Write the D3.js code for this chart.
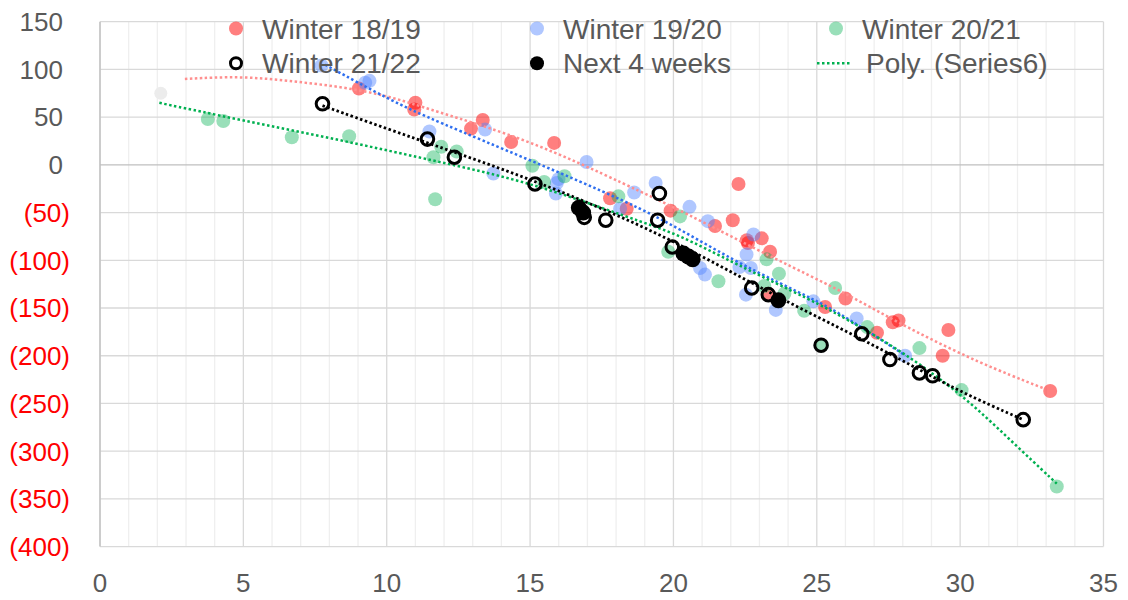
<!DOCTYPE html>
<html>
<head>
<meta charset="utf-8">
<script src="https://cdn.jsdelivr.net/npm/d3@7"></script>
<style>
    body { margin: 0; background: #fff; }
    svg text { font-family: "Liberation Sans", Arial, sans-serif; }
</style>
</head>
<body>
<div id="chart"></div>
<script>

// ticks
var xTicks = [0, 5, 10, 15, 20, 25, 30, 35];
var yTicks = [150, 100, 50, 0, -50, -100, -150, -200, -250, -300, -350, -400];

// series: [x, y]
var winter1819 = [[9.03, 80], [10.96, 58], [11.0, 65], [12.94, 38], [13.35, 47], [14.34, 24], [15.84, 23],
    [17.79, -35], [18.37, -46], [19.9, -48], [21.45, -64], [22.07, -58], [22.27, -20], [22.56, -79],
    [22.6, -82], [23.08, -77], [23.37, -91], [23.31, -135], [25.29, -149], [26.0, -140], [27.1, -176],
    [27.65, -165], [27.85, -163], [29.39, -200], [29.59, -173], [33.14, -237]];

var winter1920 = [[7.73, 104], [9.25, 86], [9.4, 88], [11.49, 35], [13.43, 37], [13.72, -9], [15.9, -30],
    [15.93, -19], [15.99, -15], [16.97, 3], [18.14, -46], [18.63, -29], [19.38, -19], [20.56, -44],
    [20.93, -108], [21.1, -115], [21.2, -59], [22.3, -107], [22.53, -136], [22.55, -94], [22.7, -108],
    [22.79, -73], [23.57, -152], [24.88, -143], [26.39, -161], [28.08, -200]];

var winter2021 = [[3.76, 48], [4.3, 46], [6.69, 29], [8.69, 30], [11.63, 8], [11.69, -36], [11.9, 19],
    [12.44, 14], [15.08, -1], [15.49, -18], [16.2, -12], [18.08, -33], [19.82, -91], [20.23, -54],
    [21.57, -122], [23.17, -127], [23.25, -99], [23.68, -114], [23.87, -135], [24.56, -153], [25.17, -189],
    [25.64, -129], [26.76, -170], [28.58, -192], [30.05, -236], [33.37, -337]];

var winter2122 = [[7.76, 64], [11.42, 27], [12.36, 8], [15.17, -20], [16.89, -55], [17.64, -58], [19.51, -30],
    [19.45, -58], [19.96, -86], [22.73, -129], [23.31, -136], [25.15, -189], [26.57, -177], [27.55, -204],
    [28.58, -218], [29.04, -221], [32.2, -267]];

var next4Weeks = [[16.7, -45], [16.85, -50], [20.35, -93], [20.52, -96], [20.67, -99], [23.66, -142]];

var series6Extra = [[2.12, 75]];

// trendlines
var trend1819 = [[2.96, 90], [4.9, 93], [6.6, 88], [8.4, 82], [10.1, 72], [11.5, 58], [15, 26], [18.5, -23],
    [20.2, -47], [23.7, -101], [25.8, -131], [28.1, -170], [30.7, -208], [32.9, -234]];
var trend1920 = [[7.85, 105], [10.1, 68], [11.7, 46], [15, 5], [18.5, -40], [20.2, -67], [22.1, -100],
    [23.7, -124], [24.9, -141], [26, -159], [28.1, -200]];
var trendSeries6 = [[2.07, 65], [4.9, 47], [8.4, 26], [11.7, 4], [15, -18], [18.5, -56], [20.2, -73],
    [22.1, -103], [24.9, -143], [26, -161], [27.9, -194], [30.05, -240], [31.7, -287], [33.37, -334]];
var trend2122 = [[7.76, 62], [10, 38], [12, 17], [14, -4], [16, -27], [18, -52], [20, -80], [22, -112],
    [24, -144], [26, -174], [28, -205], [30, -238], [32.2, -267]];

var legendItems = ["Winter 18/19", "Winter 19/20", "Winter 20/21", "Winter 21/22", "Next 4 weeks", "Poly. (Series6)"];

var red = "rgba(255,0,0,0.5)",
    blue = "rgba(80,130,255,0.45)",
    green = "rgba(0,176,80,0.4)";

var width = 1128, height = 600;

var x = d3.scaleLinear().domain([0, 35]).range([100, 1103.5]);
var y = d3.scaleLinear().domain([-400, 150]).range([546.6, 21.7]);

var svg = d3.select("#chart").append("svg")
    .attr("width", width)
    .attr("height", height);

// gridlines
var grid = svg.append("g");
grid.selectAll(".vminor")
    .data(d3.range(0, 36))
    .enter().append("line")
    .attr("x1", function (d) { return x(d); })
    .attr("x2", function (d) { return x(d); })
    .attr("y1", y(150))
    .attr("y2", y(-400))
    .attr("stroke", function (d) { return d % 5 === 0 ? "#d9d9d9" : "#efefef"; })
    .attr("stroke-width", 1.3);

grid.selectAll(".hmajor")
    .data(yTicks)
    .enter().append("line")
    .attr("x1", x(0))
    .attr("x2", x(35))
    .attr("y1", function (d) { return y(d); })
    .attr("y2", function (d) { return y(d); })
    .attr("stroke", function (d) { return d === 0 ? "#bfbfbf" : "#d9d9d9"; })
    .attr("stroke-width", 1.3);

svg.append("line")
    .attr("x1", x(0)).attr("x2", x(0))
    .attr("y1", y(150)).attr("y2", y(-400))
    .attr("stroke", "#bfbfbf")
    .attr("stroke-width", 1.3);

// axis labels
svg.append("g").selectAll("text")
    .data(yTicks)
    .enter().append("text")
    .attr("x", function (d) { return d < 0 ? 70 : 63; })
    .attr("y", function (d) { return y(d); })
    .attr("dy", "0.36em")
    .attr("text-anchor", "end")
    .attr("font-size", 26)
    .attr("fill", function (d) { return d < 0 ? "#ff0000" : "#595959"; })
    .text(function (d) { return d < 0 ? "(" + Math.abs(d) + ")" : d; });

svg.append("g").selectAll("text")
    .data(xTicks)
    .enter().append("text")
    .attr("x", function (d) { return x(d); })
    .attr("y", 583)
    .attr("dy", "0.36em")
    .attr("text-anchor", "middle")
    .attr("font-size", 26)
    .attr("fill", "#595959")
    .text(function (d) { return d; });

// points
function dots(data, color, r) {
    svg.append("g").selectAll("circle")
        .data(data)
        .enter().append("circle")
        .attr("cx", function (d) { return x(d[0]); })
        .attr("cy", function (d) { return y(d[1]); })
        .attr("r", r)
        .attr("fill", color);
}

dots(series6Extra, "#ececec", 6.5);
dots(winter1819, red, 7);
dots(winter1920, blue, 7);
dots(winter2021, green, 7);

// trendlines
var line = d3.line()
    .x(function (d) { return x(d[0]); })
    .y(function (d) { return y(d[1]); })
    .curve(d3.curveBasis);

function trend(data, color, w) {
    svg.append("path")
        .datum(data)
        .attr("d", line)
        .attr("fill", "none")
        .attr("stroke", color)
        .attr("stroke-width", w)
        .attr("stroke-dasharray", "2.5,2.5");
}

trend(trend1819, "#ff8f8f", 2.5);
trend(trend1920, "#2f6fef", 2.5);
trend(trendSeries6, "#00b050", 2.5);
trend(trend2122, "#000000", 2.8);

svg.append("g").selectAll("circle")
    .data(winter2122)
    .enter().append("circle")
    .attr("cx", function (d) { return x(d[0]); })
    .attr("cy", function (d) { return y(d[1]); })
    .attr("r", 6.3)
    .attr("fill", "none")
    .attr("stroke", "#000")
    .attr("stroke-width", 3);

dots(next4Weeks, "#000", 8);

// legend
var legendCols = [236, 537, 836];
var legendRows = [28.5, 63.3];
var legendMarks = [
    {type: "dot", fill: red},
    {type: "dot", fill: blue},
    {type: "dot", fill: green},
    {type: "ring"},
    {type: "dot", fill: "#000"},
    {type: "line"}
];

var legend = svg.append("g");
legendItems.forEach(function (name, i) {
    var cx = legendCols[i % 3], cy = legendRows[Math.floor(i / 3)];
    var m = legendMarks[i];
    if (m.type === "dot") {
        legend.append("circle")
            .attr("cx", cx).attr("cy", cy).attr("r", 7)
            .attr("fill", m.fill);
    } else if (m.type === "ring") {
        legend.append("circle")
            .attr("cx", cx).attr("cy", cy).attr("r", 5.5)
            .attr("fill", "none").attr("stroke", "#000").attr("stroke-width", 3);
    } else {
        legend.append("line")
            .attr("x1", cx - 19).attr("x2", cx + 16)
            .attr("y1", cy).attr("y2", cy)
            .attr("stroke", "#00b050").attr("stroke-width", 2.5)
            .attr("stroke-dasharray", "2.5,2.5");
    }
    legend.append("text")
        .attr("x", m.type === "line" ? cx + 30 : cx + 26)
        .attr("y", cy)
        .attr("dy", "0.36em")
        .attr("font-size", 28)
        .attr("fill", "#595959")
        .text(name);
});

</script>
</body>
</html>
